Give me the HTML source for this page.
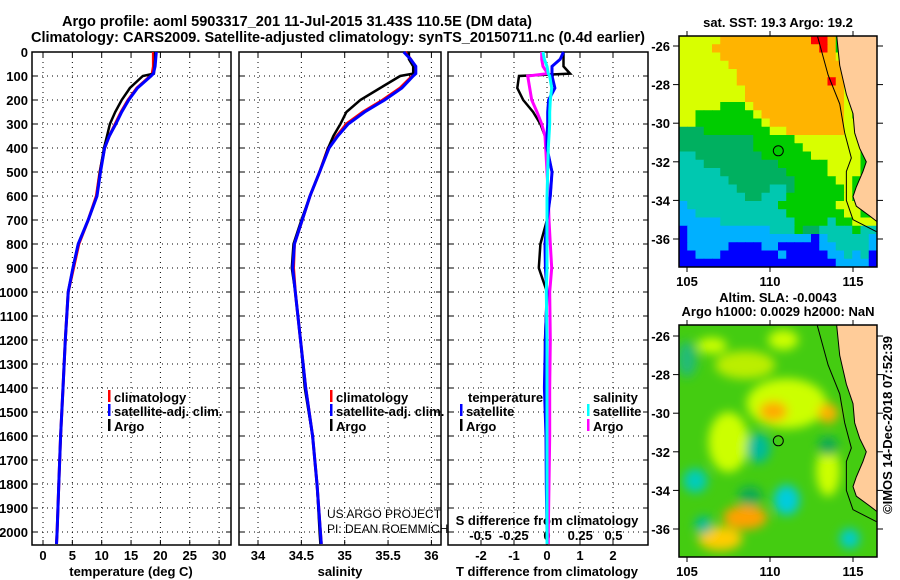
<!DOCTYPE html>
<html><head><meta charset="utf-8"><style>
html,body{margin:0;padding:0;background:#fff;}
svg{display:block;font-family:"Liberation Sans",Arial,sans-serif;}
.b{font-weight:bold;font-size:13px;}
</style></head><body>
<svg id="s" width="900" height="580" viewBox="0 0 900 580">
<defs><filter id="blur" x="-50%" y="-50%" width="200%" height="200%"><feGaussianBlur stdDeviation="5"/></filter>
<clipPath id="c2"><rect x="679" y="325" width="198" height="232"/></clipPath>
<clipPath id="c1"><rect x="679" y="36" width="198" height="231"/></clipPath></defs>
<text x="62" y="26" font-weight="bold" font-size="14.5" textLength="470" lengthAdjust="spacingAndGlyphs">Argo profile: aoml 5903317_201 11-Jul-2015 31.43S 110.5E (DM data)</text>
<text x="31" y="42" font-weight="bold" font-size="14.5" textLength="614" lengthAdjust="spacingAndGlyphs">Climatology: CARS2009. Satellite-adjusted climatology: synTS_20150711.nc (0.4d earlier)</text>
</svg>
<script>
const depths=[0,30,60,90,100,150,200,250,300,350,400,500,600,700,800,900,1000,1200,1400,1600,1800,2000,2050];
const tempArgo=[19.1,19.1,19.0,18.9,17.0,14.8,13.4,12.3,11.4,10.9,10.4,9.7,9.2,7.7,6.0,5.1,4.3,3.8,3.4,3.0,2.7,2.4,2.3];
const tempClim=[18.8,18.8,18.8,18.6,18.3,16.0,14.5,13.3,12.3,11.3,10.5,9.7,9.1,7.7,6.1,5.2,4.3,3.8,3.4,3.0,2.7,2.4,2.3];
const tempSat=[19.3,19.2,19.1,18.8,18.4,16.1,14.6,13.4,12.4,11.3,10.5,9.8,9.2,7.7,6.0,5.1,4.3,3.8,3.4,3.0,2.7,2.4,2.3];
const salArgo=[35.74,35.74,35.79,35.79,35.64,35.41,35.18,35.02,34.95,34.87,34.81,34.71,34.60,34.50,34.41,34.39,34.43,34.49,34.54,34.63,34.68,34.71,34.72];
const salClim=[35.70,35.76,35.81,35.81,35.78,35.64,35.44,35.21,35.02,34.91,34.81,34.71,34.60,34.51,34.42,34.41,34.43,34.49,34.55,34.63,34.68,34.72,34.73];
const salSat=[35.68,35.76,35.82,35.82,35.79,35.66,35.46,35.23,35.04,34.92,34.82,34.71,34.60,34.51,34.42,34.40,34.43,34.49,34.55,34.63,34.68,34.72,34.73];
const dTArgo=[0.5,0.5,0.5,0.7,-0.85,-0.9,-0.72,-0.42,-0.2,-0.06,0,0.15,0.1,0,-0.2,-0.25,0,-0.06,-0.05,0.05,0.02,0.0,0.0];
const dTSat=[0.5,0.4,0.15,0.15,0.15,0.24,0.05,0.02,0.02,0.0,0.0,0.15,0.1,0.0,-0.06,-0.05,0,-0.05,-0.08,-0.03,-0.02,0,0];
const dSArgo=[-0.04,-0.04,-0.03,0.005,-0.145,-0.13,-0.115,-0.075,-0.04,-0.015,-0.01,0,0.01,0.015,0.025,0.035,0.02,0.025,0.02,0.02,0.015,0.01,0.01];
const dSSat=[-0.03,-0.02,0,0.01,0.02,0.035,0.025,0.02,0.02,0.015,0.01,0.005,0,0,0,0,-0.005,0,0,0,0,0,0];
const depthTicks=[0,100,200,300,400,500,600,700,800,900,1000,1100,1200,1300,1400,1500,1600,1700,1800,1900,2000];
const tempTicks=[0,5,10,15,20,25,30];
const salTicks=[34,34.5,35,35.5,36];
const dTTicks=[-2,-1,0,1,2];
const dSTicks=[-0.5,-0.25,0,0.25,0.5];

const svg=document.getElementById('s');
const NS='http://www.w3.org/2000/svg';
function el(t,a,p){const e=document.createElementNS(NS,t);for(const k in a)e.setAttribute(k,a[k]);(p||svg).appendChild(e);return e;}
const yD=d=>52+d*0.24;
const xT=v=>43+v*5.87;
const xS=v=>258+(v-34)*86.7;
const xDT=v=>547+v*33;
const xDS=v=>547+v*133;
const TOP=52,BOT=545;
const panels=[{x0:32,x1:231,name:'temperature-panel'},{x0:239,x1:441,name:'salinity-panel'},{x0:448,x1:648,name:'difference-panel'}];

function grid(p,xs){
  const g=el('g',{});
  
  
  depthTicks.forEach(d=>{if(d>0){const y=yD(d);el('line',{x1:p.x0,x2:p.x1,y1:y,y2:y,stroke:'#000','stroke-width':1,'stroke-dasharray':'1 4'},g);
    el('line',{x1:p.x0,x2:p.x0+5,y1:y,y2:y,stroke:'#000'},g);el('line',{x1:p.x1-5,x2:p.x1,y1:y,y2:y,stroke:'#000'},g);}});
  xs.forEach(x=>{el('line',{x1:x,x2:x,y1:TOP,y2:BOT,stroke:'#000','stroke-width':1,'stroke-dasharray':'1 4'},g);
    el('line',{x1:x,x2:x,y1:BOT-5,y2:BOT,stroke:'#000'},g);el('line',{x1:x,x2:x,y1:TOP,y2:TOP+5,stroke:'#000'},g);});
  const r=el('rect',{x:p.x0,y:TOP,width:p.x1-p.x0,height:BOT-TOP,fill:'none',stroke:'#000','stroke-width':1.5});
  
  
}
grid(panels[0],tempTicks.map(xT));
grid(panels[1],salTicks.map(xS));
grid(panels[2],dTTicks.map(xDT));

depthTicks.forEach(d=>{const t=el('text',{x:28,y:yD(d)+5,'text-anchor':'end',class:'b'});t.textContent=d;
  
  });
function xlabels(ticks,f,y,name){ticks.forEach(v=>{const t=el('text',{x:f(v),y:y,'text-anchor':'middle',class:'b'});t.textContent=v;
  
  });}
xlabels(tempTicks,xT,560,'temperature-tick-label');
xlabels(salTicks,xS,560,'salinity-tick-label');
xlabels(dTTicks,xDT,560,'t-diff-tick-label');
xlabels(dSTicks,xDS,540,'s-diff-tick-label');
function lbl(x,y,s,name,anchor,extra){const t=el('text',Object.assign({x:x,y:y,'text-anchor':anchor||'middle',class:'b'},extra||{}));t.textContent=s;
  
  return t;}
lbl(131,576,'temperature (deg C)','temperature-axis-title');
lbl(340,576,'salinity','salinity-axis-title');
lbl(547,576,'T difference from climatology','t-diff-axis-title');
lbl(547,525,'S difference from climatology','s-diff-axis-title');

function line(xs,f,color,name,w){
  const pts=xs.map((v,i)=>f(v).toFixed(1)+','+yD(depths[i]).toFixed(1)).join(' ');
  const p=el('polyline',{points:pts,fill:'none',stroke:color,'stroke-width':w||3,'stroke-linejoin':'miter'});
  
  
}
line(tempClim,xT,'#f00','temp-climatology-line');
line(tempArgo,xT,'#000','temp-argo-line',2.5);
line(tempSat,xT,'#00f','temp-satellite-line');
line(salClim,xS,'#f00','sal-climatology-line');
line(salArgo,xS,'#000','sal-argo-line',2.5);
line(salSat,xS,'#00f','sal-satellite-line');
line(dTArgo,xDT,'#000','t-diff-argo-line',2.5);
line(dSArgo,xDS,'#f0f','s-diff-argo-line');
line(dTSat,xDT,'#00f','t-diff-satellite-line');
line(dSSat,xDS,'#0ff','s-diff-satellite-line');

function leg(x,y,c,s,name){const r=el('rect',{x:x,y:y-7,width:2.5,height:12,fill:c});
  
  
  lbl(x+6,y+5,s,name,'start');}
leg(108,397,'#f00','climatology','legend-t-climatology');
leg(108,411,'#00f','satellite-adj. clim.','legend-t-satellite');
leg(108,426,'#000','Argo','legend-t-argo');
leg(330,397,'#f00','climatology','legend-s-climatology');
leg(330,411,'#00f','satellite-adj. clim.','legend-s-satellite');
leg(330,426,'#000','Argo','legend-s-argo');
lbl(468,402,'temperature','legend-temperature-header','start');
lbl(593,402,'salinity','legend-salinity-header','start');
leg(460,411,'#00f','satellite','legend-dt-satellite');
leg(460,426,'#000','Argo','legend-dt-argo');
leg(587,411,'#0ff','satellite','legend-ds-satellite');
leg(587,426,'#f0f','Argo','legend-ds-argo');
let t=lbl(327,518,'US ARGO PROJECT','credit-project','start');t.setAttribute('font-weight','normal');t.setAttribute('class','');t.setAttribute('font-size','12');
t=lbl(327,533,'PI: DEAN ROEMMICH','credit-pi','start');t.setAttribute('font-weight','normal');t.setAttribute('class','');t.setAttribute('font-size','12');

const lonX=l=>687+(l-105)*16.6;
const cols={O:'#ffb400',Y:'#d8ff00',G:'#00cc00',D:'#00b060',C:'#00c8b0',L:'#00b0ff',B:'#0000ff',R:'#ff0000',P:'#ffcc99'};
const rows=["YYYYYOOOOOOOOOOORROGPPPP","YYYYOOOOOOOOOOOOOROGPPPP","YYYYYOOOOOOOOOOOOOOYGPPP","YYYYYYOOOOOOOOOOOOOOYPPP","YYYYYYYOOOOOOOOOOOOOYPPP","YYYYYYYOOOOOOOOOOOROYPPP","YYYYYYYYOOOOOOOOOOOOYPPP","YYYYYYYYOOOOOOOOOOOOYPPP","YYYYYGGGYOOOOOOOOOOOYGPP","YYGGGGGGGYOOOOOOOOOOYGPP","YYGGGGGGGGYOOOOOOOOOYYPP","DDDGGGGGGGGYYOOOOOOOYYGP","DDDDDDDDDGGGGGYYYYYYYYGP","DDDDDDDDDGGGGGGYYYYYYYGP","CCDDDDDDDDGGGGGGYYYYYYGG","CCCDDDDDDDDDGGGGGGYYYYGP","CCCCCDDDDDDDDGGGGGYYYYGP","CCCCCCDDDDDDDDGGGGGYYGGP","CCCCCCCDDDDCCDGGGGGGYGPP","CCCCCCCCDDCCCGGGGGGGYGPP","LCCCCCCCCCCCGGGGGGGYYYGP","LLCCCCCCCCCCCGGGGGGGYYGG","LLLLLCCCCCCCCCGGGGCGGYYY","BLLLLLLLLLLCCCGDDCCCCGCC","BLLLLLLLLLLLLLLLBLCCCCCL","BLLLLLBBBBLLBBBBBLLCCCCL","BBLLLBBBBBBBLBBBBBLLCLCB","BBBBBBBBBBBBBBBBBBBLLLLB"];
const m1=el('g',{'clip-path':'url(#c1)'});


const cw=198/24,ch=231/28;
rows.forEach((r,i)=>{for(let j=0;j<24;j++){el('rect',{x:679+j*cw,y:36+i*ch,width:cw+0.5,height:ch+0.5,fill:cols[r[j]]},m1);}});
const land=[[114.0,-25.3],[114.2,-27],[114.6,-28.5],[115.0,-29.5],[115.1,-30.5],[115.4,-31.3],[115.8,-32.0],[115.6,-32.5],[115.2,-33.3],[115.0,-33.8],[115.2,-34.3],[116,-34.8],[116.6,-35.2],[116.6,-25.3]];
const shelf=[[112.8,-25.3],[113.5,-27.5],[114.2,-29],[114.5,-30.5],[114.9,-31.8],[114.6,-32.5],[114.6,-34],[115,-35],[116.6,-35.7]];
function drawMap(g,latY){
  el('polygon',{points:land.map(p=>lonX(p[0])+','+latY(p[1])).join(' '),fill:'#ffcc99',stroke:'#000','stroke-width':1},g);
  el('polyline',{points:shelf.map(p=>lonX(p[0])+','+latY(p[1])).join(' '),fill:'none',stroke:'#000','stroke-width':1},g);
  el('circle',{cx:lonX(110.5),cy:latY(-31.43),r:5,fill:'none',stroke:'#000','stroke-width':1},g);
}
const lat1=l=>46+(-26-l)*19.3;
const lat2=l=>336+(-26-l)*19.3;
drawMap(m1,lat1);
const m2=el('g',{'clip-path':'url(#c2)'});


el('rect',{x:679,y:325,width:198,height:232,fill:'#44cc11'},m2);
const bg=el('g',{filter:'url(#blur)'},m2);
const blobs=[[108.5,-27.5,30,14,'#bbee00'],[111,-29.5,40,25,'#ccff00'],[110.2,-29.9,14,10,'#ffaa00'],[113.5,-30,10,10,'#ffb000'],[107.5,-31.5,20,30,'#ccff00'],[113.5,-33,12,25,'#ccff00'],[108.5,-35.4,22,12,'#ffa000'],[107,-36.5,22,12,'#ffcc00'],[105,-27.2,10,18,'#22bb77'],[105.5,-33.5,12,12,'#00ccbb'],[109.3,-31.8,12,15,'#00bb99'],[111,-34.5,13,15,'#00ccdd'],[114.8,-36.5,10,10,'#00cccc'],[106,-35.8,9,9,'#00bb99'],[108.8,-34.3,12,10,'#11aa55'],[113.5,-31.7,10,10,'#11aa55'],[110.8,-26.2,15,10,'#ccff00'],[106.5,-26.5,15,8,'#ccff00']];
blobs.forEach(b=>el('ellipse',{cx:lonX(b[0]),cy:lat2(b[1]),rx:b[2],ry:b[3],fill:b[4]},bg));
drawMap(m2,lat2);
[[36,267,lat1,'sst'],[325,557,lat2,'sla']].forEach(([y0,y1,f,n])=>{
  const fr=el('rect',{x:679,y:y0,width:198,height:y1-y0,fill:'none',stroke:'#000','stroke-width':1.5});
  
  
  [-26,-28,-30,-32,-34,-36].forEach(l=>{const y=f(l);el('line',{x1:673,x2:679,y1:y,y2:y,stroke:'#000'});el('line',{x1:877,x2:883,y1:y,y2:y,stroke:'#000'});
    lbl(670,y+5,l,n+'-lat-label','end');});
  [105,110,115].forEach(l=>{const x=lonX(l);el('line',{x1:x,x2:x,y1:y0-5,y2:y0,stroke:'#000'});el('line',{x1:x,x2:x,y1:y1,y2:y1+5,stroke:'#000'});
    lbl(x,y1+19,l,n+'-lon-label');});
});
lbl(778,27,'sat. SST: 19.3  Argo: 19.2','sst-map-title');
lbl(778,302,'Altim. SLA: -0.0043','sla-map-title');
lbl(778,316,'Argo h1000: 0.0029 h2000: NaN','sla-argo-heights');
t=lbl(892,425,'©IMOS 14-Dec-2018 07:52:39','imos-timestamp');
t.setAttribute('transform','rotate(-90 892 425)');t.setAttribute('font-weight','normal');t.setAttribute('font-size','12');
</script>
</body></html>
